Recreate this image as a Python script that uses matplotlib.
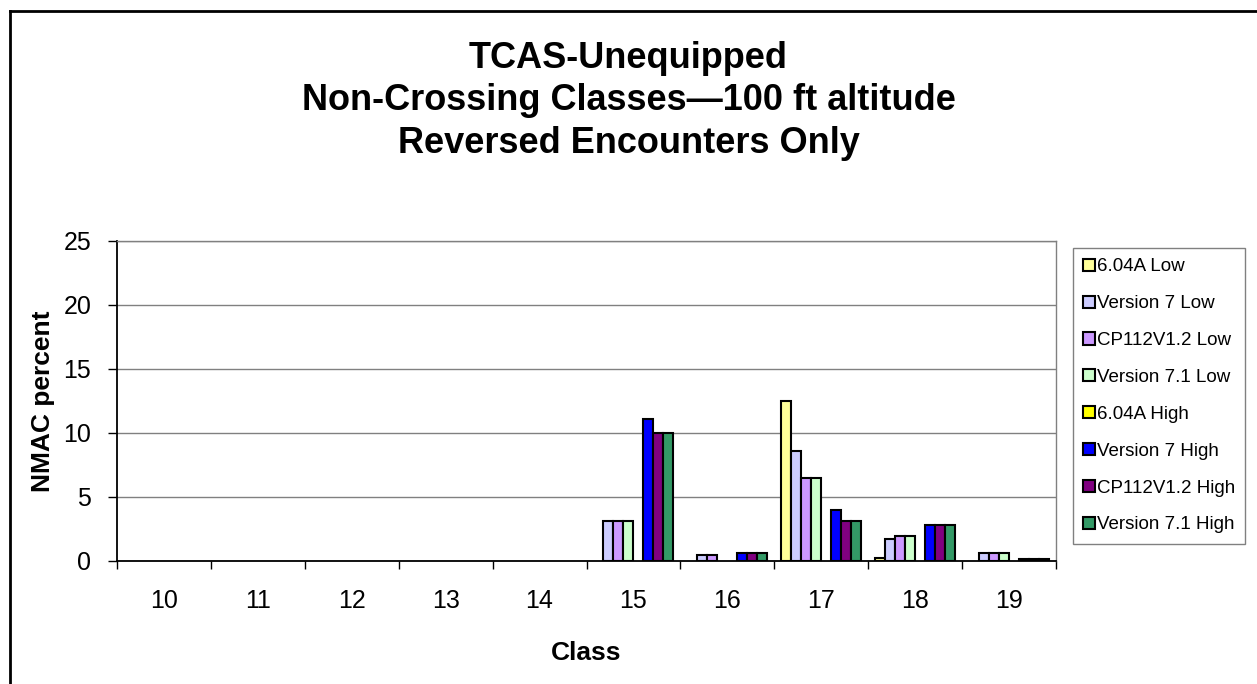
import numpy as np
import matplotlib
matplotlib.use("Agg")
import matplotlib.pyplot as plt
from matplotlib.lines import Line2D

plt.rcParams['font.family'] = ['Liberation Sans', 'DejaVu Sans']

# ---- data ----
classes = ['10', '11', '12', '13', '14', '15', '16', '17', '18', '19']
series = ['6.04A Low', 'Version 7 Low', 'CP112V1.2 Low', 'Version 7.1 Low',
          '6.04A High', 'Version 7 High', 'CP112V1.2 High', 'Version 7.1 High']
v604a_low = [0, 0, 0, 0, 0, 0, 0, 12.5, 0.2, 0]
v7_low = [0, 0, 0, 0, 0, 3.1, 0.45, 8.6, 1.7, 0.6]
cp112_low = [0, 0, 0, 0, 0, 3.1, 0.45, 6.5, 1.95, 0.6]
v71_low = [0, 0, 0, 0, 0, 3.1, 0, 6.5, 1.95, 0.6]
v604a_high = [0, 0, 0, 0, 0, 0, 0, 0, 0, 0]
v7_high = [0, 0, 0, 0, 0, 11.1, 0.6, 4.0, 2.85, 0.15]
cp112_high = [0, 0, 0, 0, 0, 10.0, 0.6, 3.1, 2.85, 0.15]
v71_high = [0, 0, 0, 0, 0, 10.0, 0.6, 3.1, 2.85, 0.15]
values = [v604a_low, v7_low, cp112_low, v71_low,
          v604a_high, v7_high, cp112_high, v71_high]
colors = ['#FFFF99', '#CCCCFF', '#CC99FF', '#CCFFCC',
          '#FFFF00', '#0000FF', '#800080', '#339966']

W, H = 1257, 684
fig = plt.figure(figsize=(W / 100, H / 100), dpi=100)
ax = fig.add_axes([117 / W, (H - 561) / H, (1056 - 117) / W, (561 - 241) / H])

x = np.arange(len(classes))
w = 0.1065
for k, (name, vals, c) in enumerate(zip(series, values, colors)):
    bars = ax.bar(x + (k - 3.5) * w, vals, w, color=c, edgecolor='black',
                  linewidth=1.5, label=name, zorder=3)
    # zero bars leave no outline on the axis
    for b in bars:
        if b.get_height() == 0:
            b.set_linewidth(0)

ax.set_xlim(-0.5, len(classes) - 0.5)
ax.set_ylim(0, 25)
ax.set_yticks(np.arange(0, 26, 5))
ax.set_xticks(x)
ax.set_xticklabels(classes)
ax.set_xticks(np.arange(-0.5, len(classes), 1), minor=True)
ax.tick_params(axis='x', which='major', length=0, pad=20, labelsize=18)
ax.tick_params(axis='x', which='minor', length=5.5, width=1, color='black')
ax.tick_params(axis='y', which='major', length=6.5, width=1, pad=12,
               labelsize=18)
ax.yaxis.grid(True, color='#808080', linewidth=1, zorder=0)
ax.set_axisbelow(True)

for s in ['top', 'right']:
    ax.spines[s].set_color('#808080')
    ax.spines[s].set_linewidth(1)
for s in ['left', 'bottom']:
    ax.spines[s].set_color('black')
    ax.spines[s].set_linewidth(1.3)

ax.set_ylabel('NMAC percent', fontsize=19, fontweight='bold', va='center')
ax.yaxis.set_label_coords((43 - 117) / 939, 0.5)
ax.set_xlabel('Class', fontsize=19, fontweight='bold', va='baseline')
ax.xaxis.set_label_coords(0.5, (561 - 660) / 320)

# title, three lines centred on the figure
title_lines = ['TCAS-Unequipped', 'Non-Crossing Classes\u2014100 ft altitude',
               'Reversed Encounters Only']
for i, line in enumerate(title_lines):
    fig.text(0.5, 1 - (68 + 42.5 * i) / H, line, ha='center', va='baseline',
             fontsize=26, fontweight='bold')

leg = ax.legend(loc='upper left', bbox_to_anchor=(1073 / W, 1 - 248 / H),
                bbox_transform=fig.transFigure, borderaxespad=0,
                fontsize=13.5, handlelength=0.62, handleheight=0.62,
                handletextpad=0.1, labelspacing=1.06, borderpad=0.55,
                fancybox=False, framealpha=1)
leg.get_frame().set_edgecolor('#808080')
leg.get_frame().set_linewidth(1)
for h in leg.legend_handles:
    h.set_linewidth(1.5)

# outer chart frame (left and top edges visible)
fig.add_artist(Line2D([10 / W, 10 / W], [0, 1 - 11 / H], color='black',
                      linewidth=2, transform=fig.transFigure))
fig.add_artist(Line2D([10 / W, 1], [1 - 11 / H, 1 - 11 / H], color='black',
                      linewidth=2, transform=fig.transFigure))

fig.savefig('out.png', dpi=100)
